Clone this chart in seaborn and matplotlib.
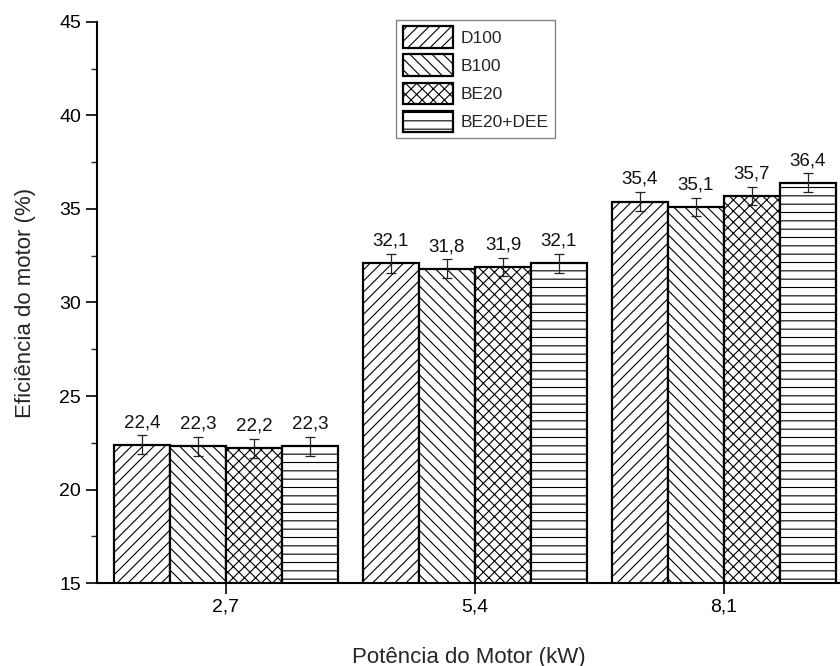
import matplotlib
matplotlib.use("Agg")
import matplotlib.pyplot as plt
from matplotlib.patches import Patch
from matplotlib.ticker import MultipleLocator
import numpy as np
import pandas as pd
import seaborn as sns

# Engine power levels and fuel blends
potencias = ["2,7", "5,4", "8,1"]
combustiveis = ["D100", "B100", "BE20", "BE20+DEE"]

eficiencia = {
    "D100": [22.4, 32.1, 35.4],
    "B100": [22.3, 31.8, 35.1],
    "BE20": [22.2, 31.9, 35.7],
    "BE20+DEE": [22.3, 32.1, 36.4],
}
erro = {
    "D100": [0.5, 0.5, 0.5],
    "B100": [0.5, 0.5, 0.5],
    "BE20": [0.5, 0.5, 0.5],
    "BE20+DEE": [0.5, 0.5, 0.5],
}
hachuras = {"D100": "///", "B100": "\\\\\\", "BE20": "xxx", "BE20+DEE": "--"}

rows = []
for c in combustiveis:
    for p, v, e in zip(potencias, eficiencia[c], erro[c]):
        rows.append({"Potencia": p, "Combustivel": c, "Eficiencia": v, "Erro": e})
df = pd.DataFrame(rows)

sns.set_style("ticks")
plt.rcParams["font.family"] = ["Liberation Sans", "DejaVu Sans"]
plt.rcParams["hatch.linewidth"] = 0.8
plt.rcParams["hatch.color"] = "#444444"

fig = plt.figure(figsize=(8.4, 6.66), dpi=100)
ax = fig.add_axes([0.1155, 0.1246, 0.8845, 0.8424])

sns.barplot(data=df, x="Potencia", y="Eficiencia", hue="Combustivel",
            order=potencias, hue_order=combustiveis,
            palette=["white"] * 4, width=0.9, gap=0, errorbar=None,
            edgecolor="black", linewidth=1.6, legend=False, ax=ax)

for cont, c in zip(ax.containers, combustiveis):
    for bar, v, e in zip(cont, eficiencia[c], erro[c]):
        bar.set_hatch(hachuras[c])
        cx = bar.get_x() + bar.get_width() / 2
        ax.errorbar(cx, v, yerr=e, fmt="none", ecolor="#222222",
                    elinewidth=0.9, capsize=3.6, capthick=0.9, zorder=5)
        ax.annotate(f"{v:.1f}".replace(".", ","), (cx, v + e),
                    xytext=(0, 3), textcoords="offset points",
                    ha="center", va="bottom", fontsize=13.5, color="#111111")

ax.set_ylim(15, 45)
ax.set_xlim(-0.518, 2.466)
ax.yaxis.set_major_locator(MultipleLocator(5))
ax.yaxis.set_minor_locator(MultipleLocator(2.5))
ax.tick_params(axis="both", which="major", direction="out", length=8,
               width=1.2, labelsize=14, colors="black")
ax.tick_params(axis="y", which="minor", direction="out", length=4, width=1.0)

for s in ["top", "right"]:
    ax.spines[s].set_visible(False)
for s in ["left", "bottom"]:
    ax.spines[s].set_linewidth(1.5)
    ax.spines[s].set_color("black")

ax.set_xlabel("Potência do Motor (kW)", fontsize=16, labelpad=22)
ax.set_ylabel("Eficiência do motor (%)", fontsize=16, labelpad=17)

handles = [Patch(facecolor="white", edgecolor="black", linewidth=1.6,
                 hatch=hachuras[c], label=c) for c in combustiveis]
leg = ax.legend(handles=handles, loc="upper left", bbox_to_anchor=(0.403, 1.003),
                fontsize=12.5, handlelength=2.9, handleheight=1.5,
                handletextpad=0.45, labelspacing=0.4, borderpad=0.35,
                fancybox=False, frameon=True, borderaxespad=0)
leg.get_frame().set_edgecolor("#666666")
leg.get_frame().set_linewidth(1.0)

fig.savefig("out.png", dpi=100)
